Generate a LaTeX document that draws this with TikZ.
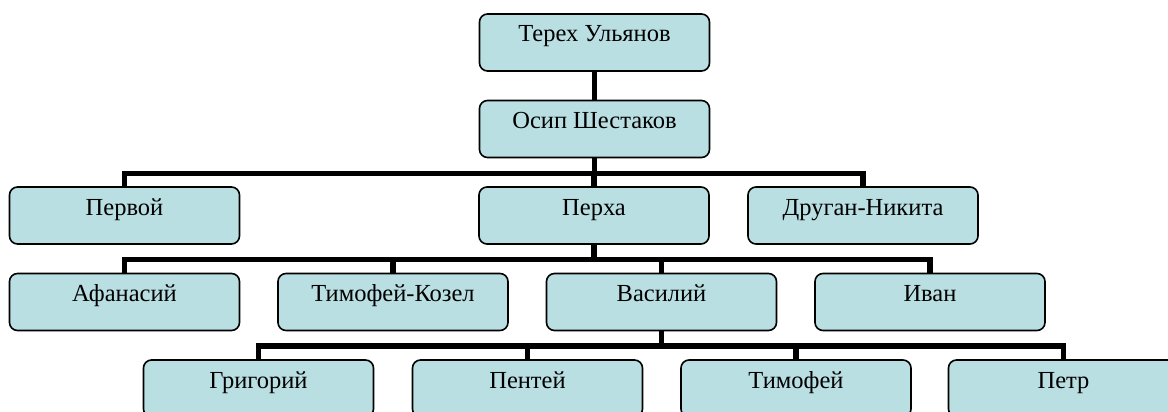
\documentclass[tikz,border=0pt]{standalone}
\usepackage{fontspec}
\setmainfont{Liberation Serif}
\definecolor{boxfill}{RGB}{185,223,227}
\begin{document}
\begin{tikzpicture}[x=1pt,y=-1pt,
  person/.style={draw=black, line width=1.6pt, fill=boxfill, rounded corners=8pt,
    minimum width=230pt, inner xsep=0pt, inner ysep=0pt,
    text height=28pt, text depth=29pt,
    font=\fontsize{24.5}{28}\selectfont},
  conn/.style={line width=5.5pt, black, line join=miter}]
\useasboundingbox (0,0) rectangle (1168,412);
\clip (0,0) rectangle (1168,412);
% row 0,1
\node[person] (tereh) at (594.5,42.5) {Терех Ульянов};
\node[person] (osip)  at (594.5,129) {Осип Шестаков};
% row 2
\node[person] (pervoy) at (124.5,215.5) {Первой};
\node[person] (perha)  at (594,215.5) {Перха};
\node[person] (drugan) at (863,215.5) {Друган-Никита};
% row 3
\node[person] (afan) at (124.5,302) {Афанасий};
\node[person] (tk)   at (393,302) {Тимофей-Козел};
\node[person] (vas)  at (661.5,302) {Василий};
\node[person] (ivan) at (930,302) {Иван};
% row 4
\node[person] (grig) at (258.5,388.5) {Григорий};
\node[person] (pent) at (527.5,388.5) {Пентей};
\node[person] (tim)  at (796,388.5) {Тимофей};
\node[person] (petr) at (1063.5,388.5) {Петр};
% connectors
\draw[conn] (tereh.south) -- (osip.north);
\foreach \c in {pervoy,perha,drugan}
  \draw[conn] (osip.south) -- ++(0,15) -| (\c.north);
\foreach \c in {afan,tk,vas,ivan}
  \draw[conn] (perha.south) -- ++(0,14.5) -| (\c.north);
\foreach \c in {grig,pent,tim,petr}
  \draw[conn] (vas.south) -- ++(0,14.5) -| (\c.north);
\end{tikzpicture}
\end{document}
